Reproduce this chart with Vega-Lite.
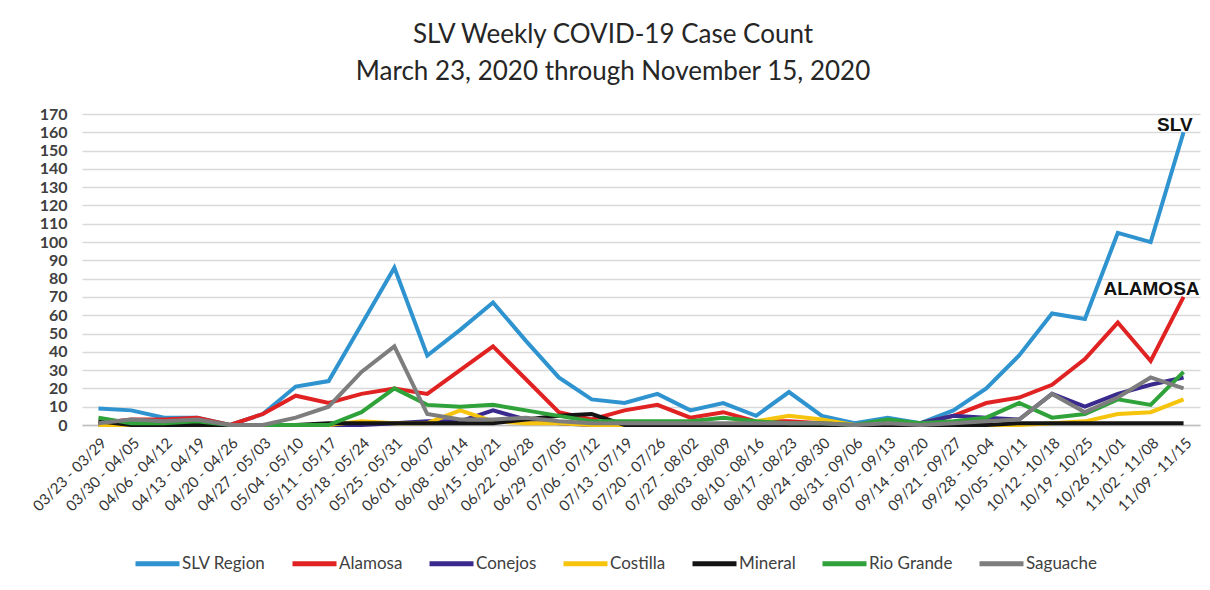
{
  "$schema": "https://vega.github.io/schema/vega-lite/v6.json",
  "width": 1118,
  "height": 311,
  "autosize": {"type": "none"},
  "padding": {"left": 82, "top": 114, "right": 10, "bottom": 165},
  "background": "white",
  "config": {"font": "Lato", "view": {"stroke": null}},
  "title": {
    "text": ["SLV Weekly COVID-19 Case Count", "March 23, 2020 through November 15, 2020"],
    "fontSize": 26, "font": "Lato", "fontWeight": "normal", "color": "#262626",
    "lineHeight": 37, "anchor": "middle", "dx": -28, "offset": 21
  },
  "data": {"values": [
    {"week":"03/23 - 03/29","series":"SLV Region","cases":9},
    {"week":"03/30 - 04/05","series":"SLV Region","cases":8},
    {"week":"04/06 - 04/12","series":"SLV Region","cases":4},
    {"week":"04/13 - 04/19","series":"SLV Region","cases":4},
    {"week":"04/20 - 04/26","series":"SLV Region","cases":0},
    {"week":"04/27 - 05/03","series":"SLV Region","cases":6},
    {"week":"05/04 - 05/10","series":"SLV Region","cases":21},
    {"week":"05/11 - 05/17","series":"SLV Region","cases":24},
    {"week":"05/18 - 05/24","series":"SLV Region","cases":55},
    {"week":"05/25 - 05/31","series":"SLV Region","cases":86},
    {"week":"06/01 - 06/07","series":"SLV Region","cases":38},
    {"week":"06/08 - 06/14","series":"SLV Region","cases":52},
    {"week":"06/15 - 06/21","series":"SLV Region","cases":67},
    {"week":"06/22 - 06/28","series":"SLV Region","cases":46},
    {"week":"06/29 - 07/05","series":"SLV Region","cases":26},
    {"week":"07/06 - 07/12","series":"SLV Region","cases":14},
    {"week":"07/13 - 07/19","series":"SLV Region","cases":12},
    {"week":"07/20 - 07/26","series":"SLV Region","cases":17},
    {"week":"07/27 - 08/02","series":"SLV Region","cases":8},
    {"week":"08/03 - 08/09","series":"SLV Region","cases":12},
    {"week":"08/10 - 08/16","series":"SLV Region","cases":5},
    {"week":"08/17 - 08/23","series":"SLV Region","cases":18},
    {"week":"08/24 - 08/30","series":"SLV Region","cases":5},
    {"week":"08/31 - 09/06","series":"SLV Region","cases":1},
    {"week":"09/07 - 09/13","series":"SLV Region","cases":4},
    {"week":"09/14 - 09/20","series":"SLV Region","cases":1},
    {"week":"09/21 - 09/27","series":"SLV Region","cases":8},
    {"week":"09/28 - 10-04","series":"SLV Region","cases":20},
    {"week":"10/05 - 10/11","series":"SLV Region","cases":38},
    {"week":"10/12 - 10/18","series":"SLV Region","cases":61},
    {"week":"10/19 - 10/25","series":"SLV Region","cases":58},
    {"week":"10/26 -11/01","series":"SLV Region","cases":105},
    {"week":"11/02 - 11/08","series":"SLV Region","cases":100},
    {"week":"11/09 - 11/15","series":"SLV Region","cases":160},

    {"week":"03/23 - 03/29","series":"Alamosa","cases":1},
    {"week":"03/30 - 04/05","series":"Alamosa","cases":3},
    {"week":"04/06 - 04/12","series":"Alamosa","cases":3},
    {"week":"04/13 - 04/19","series":"Alamosa","cases":4},
    {"week":"04/20 - 04/26","series":"Alamosa","cases":0},
    {"week":"04/27 - 05/03","series":"Alamosa","cases":6},
    {"week":"05/04 - 05/10","series":"Alamosa","cases":16},
    {"week":"05/11 - 05/17","series":"Alamosa","cases":12},
    {"week":"05/18 - 05/24","series":"Alamosa","cases":17},
    {"week":"05/25 - 05/31","series":"Alamosa","cases":20},
    {"week":"06/01 - 06/07","series":"Alamosa","cases":17},
    {"week":"06/08 - 06/14","series":"Alamosa","cases":30},
    {"week":"06/15 - 06/21","series":"Alamosa","cases":43},
    {"week":"06/22 - 06/28","series":"Alamosa","cases":25},
    {"week":"06/29 - 07/05","series":"Alamosa","cases":7},
    {"week":"07/06 - 07/12","series":"Alamosa","cases":3},
    {"week":"07/13 - 07/19","series":"Alamosa","cases":8},
    {"week":"07/20 - 07/26","series":"Alamosa","cases":11},
    {"week":"07/27 - 08/02","series":"Alamosa","cases":4},
    {"week":"08/03 - 08/09","series":"Alamosa","cases":7},
    {"week":"08/10 - 08/16","series":"Alamosa","cases":2},
    {"week":"08/17 - 08/23","series":"Alamosa","cases":2},
    {"week":"08/24 - 08/30","series":"Alamosa","cases":1},
    {"week":"08/31 - 09/06","series":"Alamosa","cases":0},
    {"week":"09/07 - 09/13","series":"Alamosa","cases":1},
    {"week":"09/14 - 09/20","series":"Alamosa","cases":1},
    {"week":"09/21 - 09/27","series":"Alamosa","cases":5},
    {"week":"09/28 - 10-04","series":"Alamosa","cases":12},
    {"week":"10/05 - 10/11","series":"Alamosa","cases":15},
    {"week":"10/12 - 10/18","series":"Alamosa","cases":22},
    {"week":"10/19 - 10/25","series":"Alamosa","cases":36},
    {"week":"10/26 -11/01","series":"Alamosa","cases":56},
    {"week":"11/02 - 11/08","series":"Alamosa","cases":35},
    {"week":"11/09 - 11/15","series":"Alamosa","cases":70},

    {"week":"03/23 - 03/29","series":"Conejos","cases":0},
    {"week":"03/30 - 04/05","series":"Conejos","cases":1},
    {"week":"04/06 - 04/12","series":"Conejos","cases":0},
    {"week":"04/13 - 04/19","series":"Conejos","cases":0},
    {"week":"04/20 - 04/26","series":"Conejos","cases":0},
    {"week":"04/27 - 05/03","series":"Conejos","cases":0},
    {"week":"05/04 - 05/10","series":"Conejos","cases":0},
    {"week":"05/11 - 05/17","series":"Conejos","cases":0},
    {"week":"05/18 - 05/24","series":"Conejos","cases":0},
    {"week":"05/25 - 05/31","series":"Conejos","cases":1},
    {"week":"06/01 - 06/07","series":"Conejos","cases":2},
    {"week":"06/08 - 06/14","series":"Conejos","cases":2},
    {"week":"06/15 - 06/21","series":"Conejos","cases":8},
    {"week":"06/22 - 06/28","series":"Conejos","cases":3},
    {"week":"06/29 - 07/05","series":"Conejos","cases":1},
    {"week":"07/06 - 07/12","series":"Conejos","cases":0},
    {"week":"07/13 - 07/19","series":"Conejos","cases":0},
    {"week":"07/20 - 07/26","series":"Conejos","cases":0},
    {"week":"07/27 - 08/02","series":"Conejos","cases":0},
    {"week":"08/03 - 08/09","series":"Conejos","cases":0},
    {"week":"08/10 - 08/16","series":"Conejos","cases":0},
    {"week":"08/17 - 08/23","series":"Conejos","cases":0},
    {"week":"08/24 - 08/30","series":"Conejos","cases":0},
    {"week":"08/31 - 09/06","series":"Conejos","cases":0},
    {"week":"09/07 - 09/13","series":"Conejos","cases":0},
    {"week":"09/14 - 09/20","series":"Conejos","cases":1},
    {"week":"09/21 - 09/27","series":"Conejos","cases":5},
    {"week":"09/28 - 10-04","series":"Conejos","cases":4},
    {"week":"10/05 - 10/11","series":"Conejos","cases":3},
    {"week":"10/12 - 10/18","series":"Conejos","cases":17},
    {"week":"10/19 - 10/25","series":"Conejos","cases":10},
    {"week":"10/26 -11/01","series":"Conejos","cases":17},
    {"week":"11/02 - 11/08","series":"Conejos","cases":22},
    {"week":"11/09 - 11/15","series":"Conejos","cases":26},

    {"week":"03/23 - 03/29","series":"Costilla","cases":0},
    {"week":"03/30 - 04/05","series":"Costilla","cases":0},
    {"week":"04/06 - 04/12","series":"Costilla","cases":0},
    {"week":"04/13 - 04/19","series":"Costilla","cases":0},
    {"week":"04/20 - 04/26","series":"Costilla","cases":0},
    {"week":"04/27 - 05/03","series":"Costilla","cases":0},
    {"week":"05/04 - 05/10","series":"Costilla","cases":0},
    {"week":"05/11 - 05/17","series":"Costilla","cases":0},
    {"week":"05/18 - 05/24","series":"Costilla","cases":2},
    {"week":"05/25 - 05/31","series":"Costilla","cases":1},
    {"week":"06/01 - 06/07","series":"Costilla","cases":1},
    {"week":"06/08 - 06/14","series":"Costilla","cases":8},
    {"week":"06/15 - 06/21","series":"Costilla","cases":2},
    {"week":"06/22 - 06/28","series":"Costilla","cases":1},
    {"week":"06/29 - 07/05","series":"Costilla","cases":1},
    {"week":"07/06 - 07/12","series":"Costilla","cases":0},
    {"week":"07/13 - 07/19","series":"Costilla","cases":0},
    {"week":"07/20 - 07/26","series":"Costilla","cases":0},
    {"week":"07/27 - 08/02","series":"Costilla","cases":0},
    {"week":"08/03 - 08/09","series":"Costilla","cases":0},
    {"week":"08/10 - 08/16","series":"Costilla","cases":2},
    {"week":"08/17 - 08/23","series":"Costilla","cases":5},
    {"week":"08/24 - 08/30","series":"Costilla","cases":3},
    {"week":"08/31 - 09/06","series":"Costilla","cases":0},
    {"week":"09/07 - 09/13","series":"Costilla","cases":0},
    {"week":"09/14 - 09/20","series":"Costilla","cases":0},
    {"week":"09/21 - 09/27","series":"Costilla","cases":0},
    {"week":"09/28 - 10-04","series":"Costilla","cases":0},
    {"week":"10/05 - 10/11","series":"Costilla","cases":0},
    {"week":"10/12 - 10/18","series":"Costilla","cases":1},
    {"week":"10/19 - 10/25","series":"Costilla","cases":2},
    {"week":"10/26 -11/01","series":"Costilla","cases":6},
    {"week":"11/02 - 11/08","series":"Costilla","cases":7},
    {"week":"11/09 - 11/15","series":"Costilla","cases":14},

    {"week":"03/23 - 03/29","series":"Mineral","cases":2},
    {"week":"03/30 - 04/05","series":"Mineral","cases":0},
    {"week":"04/06 - 04/12","series":"Mineral","cases":0},
    {"week":"04/13 - 04/19","series":"Mineral","cases":0},
    {"week":"04/20 - 04/26","series":"Mineral","cases":0},
    {"week":"04/27 - 05/03","series":"Mineral","cases":0},
    {"week":"05/04 - 05/10","series":"Mineral","cases":0},
    {"week":"05/11 - 05/17","series":"Mineral","cases":1},
    {"week":"05/18 - 05/24","series":"Mineral","cases":1},
    {"week":"05/25 - 05/31","series":"Mineral","cases":1},
    {"week":"06/01 - 06/07","series":"Mineral","cases":1},
    {"week":"06/08 - 06/14","series":"Mineral","cases":1},
    {"week":"06/15 - 06/21","series":"Mineral","cases":1},
    {"week":"06/22 - 06/28","series":"Mineral","cases":3},
    {"week":"06/29 - 07/05","series":"Mineral","cases":5},
    {"week":"07/06 - 07/12","series":"Mineral","cases":6},
    {"week":"07/13 - 07/19","series":"Mineral","cases":0},
    {"week":"07/20 - 07/26","series":"Mineral","cases":0},
    {"week":"07/27 - 08/02","series":"Mineral","cases":0},
    {"week":"08/03 - 08/09","series":"Mineral","cases":0},
    {"week":"08/10 - 08/16","series":"Mineral","cases":0},
    {"week":"08/17 - 08/23","series":"Mineral","cases":0},
    {"week":"08/24 - 08/30","series":"Mineral","cases":0},
    {"week":"08/31 - 09/06","series":"Mineral","cases":0},
    {"week":"09/07 - 09/13","series":"Mineral","cases":0},
    {"week":"09/14 - 09/20","series":"Mineral","cases":0},
    {"week":"09/21 - 09/27","series":"Mineral","cases":0},
    {"week":"09/28 - 10-04","series":"Mineral","cases":0},
    {"week":"10/05 - 10/11","series":"Mineral","cases":1},
    {"week":"10/12 - 10/18","series":"Mineral","cases":1},
    {"week":"10/19 - 10/25","series":"Mineral","cases":1},
    {"week":"10/26 -11/01","series":"Mineral","cases":1},
    {"week":"11/02 - 11/08","series":"Mineral","cases":1},
    {"week":"11/09 - 11/15","series":"Mineral","cases":1},

    {"week":"03/23 - 03/29","series":"Rio Grande","cases":4},
    {"week":"03/30 - 04/05","series":"Rio Grande","cases":1},
    {"week":"04/06 - 04/12","series":"Rio Grande","cases":1},
    {"week":"04/13 - 04/19","series":"Rio Grande","cases":2},
    {"week":"04/20 - 04/26","series":"Rio Grande","cases":0},
    {"week":"04/27 - 05/03","series":"Rio Grande","cases":0},
    {"week":"05/04 - 05/10","series":"Rio Grande","cases":0},
    {"week":"05/11 - 05/17","series":"Rio Grande","cases":0},
    {"week":"05/18 - 05/24","series":"Rio Grande","cases":7},
    {"week":"05/25 - 05/31","series":"Rio Grande","cases":20},
    {"week":"06/01 - 06/07","series":"Rio Grande","cases":11},
    {"week":"06/08 - 06/14","series":"Rio Grande","cases":10},
    {"week":"06/15 - 06/21","series":"Rio Grande","cases":11},
    {"week":"06/22 - 06/28","series":"Rio Grande","cases":8},
    {"week":"06/29 - 07/05","series":"Rio Grande","cases":5},
    {"week":"07/06 - 07/12","series":"Rio Grande","cases":2},
    {"week":"07/13 - 07/19","series":"Rio Grande","cases":2},
    {"week":"07/20 - 07/26","series":"Rio Grande","cases":2},
    {"week":"07/27 - 08/02","series":"Rio Grande","cases":2},
    {"week":"08/03 - 08/09","series":"Rio Grande","cases":4},
    {"week":"08/10 - 08/16","series":"Rio Grande","cases":2},
    {"week":"08/17 - 08/23","series":"Rio Grande","cases":1},
    {"week":"08/24 - 08/30","series":"Rio Grande","cases":1},
    {"week":"08/31 - 09/06","series":"Rio Grande","cases":0},
    {"week":"09/07 - 09/13","series":"Rio Grande","cases":3},
    {"week":"09/14 - 09/20","series":"Rio Grande","cases":1},
    {"week":"09/21 - 09/27","series":"Rio Grande","cases":2},
    {"week":"09/28 - 10-04","series":"Rio Grande","cases":4},
    {"week":"10/05 - 10/11","series":"Rio Grande","cases":12},
    {"week":"10/12 - 10/18","series":"Rio Grande","cases":4},
    {"week":"10/19 - 10/25","series":"Rio Grande","cases":6},
    {"week":"10/26 -11/01","series":"Rio Grande","cases":14},
    {"week":"11/02 - 11/08","series":"Rio Grande","cases":11},
    {"week":"11/09 - 11/15","series":"Rio Grande","cases":29},

    {"week":"03/23 - 03/29","series":"Saguache","cases":1},
    {"week":"03/30 - 04/05","series":"Saguache","cases":3},
    {"week":"04/06 - 04/12","series":"Saguache","cases":2},
    {"week":"04/13 - 04/19","series":"Saguache","cases":3},
    {"week":"04/20 - 04/26","series":"Saguache","cases":0},
    {"week":"04/27 - 05/03","series":"Saguache","cases":0},
    {"week":"05/04 - 05/10","series":"Saguache","cases":4},
    {"week":"05/11 - 05/17","series":"Saguache","cases":10},
    {"week":"05/18 - 05/24","series":"Saguache","cases":29},
    {"week":"05/25 - 05/31","series":"Saguache","cases":43},
    {"week":"06/01 - 06/07","series":"Saguache","cases":6},
    {"week":"06/08 - 06/14","series":"Saguache","cases":3},
    {"week":"06/15 - 06/21","series":"Saguache","cases":3},
    {"week":"06/22 - 06/28","series":"Saguache","cases":4},
    {"week":"06/29 - 07/05","series":"Saguache","cases":2},
    {"week":"07/06 - 07/12","series":"Saguache","cases":1},
    {"week":"07/13 - 07/19","series":"Saguache","cases":1},
    {"week":"07/20 - 07/26","series":"Saguache","cases":1},
    {"week":"07/27 - 08/02","series":"Saguache","cases":1},
    {"week":"08/03 - 08/09","series":"Saguache","cases":1},
    {"week":"08/10 - 08/16","series":"Saguache","cases":1},
    {"week":"08/17 - 08/23","series":"Saguache","cases":1},
    {"week":"08/24 - 08/30","series":"Saguache","cases":1},
    {"week":"08/31 - 09/06","series":"Saguache","cases":0},
    {"week":"09/07 - 09/13","series":"Saguache","cases":1},
    {"week":"09/14 - 09/20","series":"Saguache","cases":0},
    {"week":"09/21 - 09/27","series":"Saguache","cases":1},
    {"week":"09/28 - 10-04","series":"Saguache","cases":2},
    {"week":"10/05 - 10/11","series":"Saguache","cases":3},
    {"week":"10/12 - 10/18","series":"Saguache","cases":17},
    {"week":"10/19 - 10/25","series":"Saguache","cases":7},
    {"week":"10/26 -11/01","series":"Saguache","cases":15},
    {"week":"11/02 - 11/08","series":"Saguache","cases":26},
    {"week":"11/09 - 11/15","series":"Saguache","cases":20}
  ]},
  "encoding": {
    "x": {
      "field": "week", "type": "ordinal", "sort": null,
      "scale": {"type": "point", "padding": 0.5},
      "axis": {"title": null, "labelAngle": -45, "labelFontSize": 15, "labelColor": "#333333",
               "ticks": false, "domainColor": "#bfbfbf", "domainWidth": 1.5, "labelPadding": 10,
               "labelFont": "Lato", "labelOverlap": false}
    },
    "y": {
      "field": "cases", "type": "quantitative",
      "scale": {"domain": [0, 170], "nice": false},
      "axis": {"title": null, "values": [0,10,20,30,40,50,60,70,80,90,100,110,120,130,140,150,160,170],
               "labelOverlap": false,
               "domain": false, "ticks": false, "gridColor": "#d9d9d9", "gridWidth": 1.5,
               "labelFontSize": 16, "labelFontWeight": "bold", "labelColor": "#404040", "labelPadding": 15, "labelFont": "Lato"}
    }
  },
  "layer": [
    {
      "mark": {"type": "line", "strokeWidth": 4, "strokeJoin": "miter"},
      "encoding": {
        "color": {
          "field": "series", "type": "nominal",
          "scale": {
            "domain": ["SLV Region", "Alamosa", "Conejos", "Costilla", "Mineral", "Rio Grande", "Saguache"],
            "range": ["#2e93cf", "#e02222", "#3b2a8e", "#f6c40c", "#141414", "#2fa23a", "#7d7d7d"]
          },
          "legend": {
            "title": null, "orient": "none", "direction": "horizontal", "legendX": 51, "legendY": 425,
            "symbolType": "stroke", "symbolSize": 1936, "symbolStrokeWidth": 5,
            "labelFontSize": 17, "labelColor": "#404040", "labelFont": "Lato", "columnPadding": 16, "labelOffset": 0
          }
        }
      }
    },
    {
      "data": {"values": [{"week": "11/09 - 11/15", "cases": 160, "label": "SLV"}]},
      "mark": {"type": "text", "align": "right", "baseline": "bottom", "dx": 9, "dy": 3,
               "font": "Liberation Sans", "fontWeight": "bold", "fontSize": 19, "color": "#111"},
      "encoding": {"text": {"field": "label"}}
    },
    {
      "data": {"values": [{"week": "11/09 - 11/15", "cases": 70, "label": "ALAMOSA"}]},
      "mark": {"type": "text", "align": "right", "baseline": "bottom", "dx": 16, "dy": 2,
               "font": "Liberation Sans", "fontWeight": "bold", "fontSize": 19, "color": "#111"},
      "encoding": {"text": {"field": "label"}}
    }
  ]
}
